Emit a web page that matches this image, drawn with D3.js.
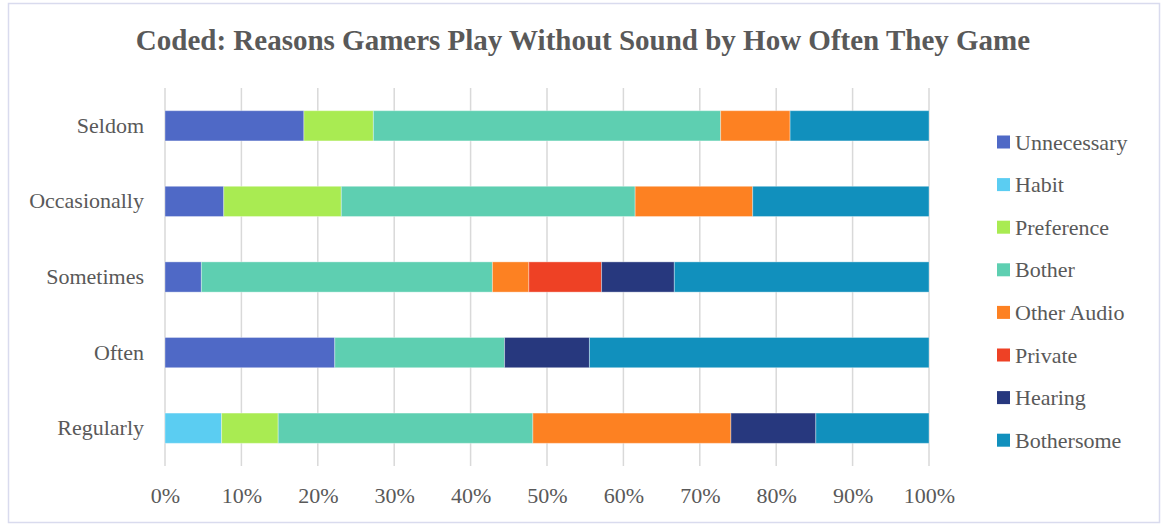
<!DOCTYPE html>
<html>
<head>
<meta charset="utf-8">
<script src="https://cdn.jsdelivr.net/npm/d3@7"></script>
<style>
  body { margin: 0; background: #fff; }
  svg { display: block; }
  text { font-family: "Liberation Serif", "DejaVu Serif", serif; fill: #595959; }
</style>
</head>
<body>
<svg id="chart" width="1162" height="525"></svg>
<script>
// frequency groups, top to bottom
var groups = ["Seldom", "Occasionally", "Sometimes", "Often", "Regularly"];
var reasons = ["Unnecessary", "Habit", "Preference", "Bother", "Other Audio", "Private", "Hearing", "Bothersome"];
var colors = ["#4f69c6", "#5bcdf2", "#a9eb52", "#5ecfb1", "#fd8122", "#ee4125", "#27387e", "#1190bd"];

// coded answer counts per reason, in group order
var unnecessary = [2, 1, 1, 2, 0];
var habit       = [0, 0, 0, 0, 2];
var preference  = [1, 2, 0, 0, 2];
var bother      = [5, 5, 8, 2, 9];
var otherAudio  = [1, 2, 1, 0, 7];
var privateR    = [0, 0, 2, 0, 0];
var hearing     = [0, 0, 2, 1, 3];
var bothersome  = [2, 3, 7, 4, 4];

var tickValues = [0, 0.1, 0.2, 0.3, 0.4, 0.5, 0.6, 0.7, 0.8, 0.9, 1];

var series = [unnecessary, habit, preference, bother, otherAudio, privateR, hearing, bothersome];
var rows = groups.map(function (g, i) {
  var row = { group: g };
  reasons.forEach(function (r, j) { row[r] = series[j][i]; });
  return row;
});

var svg = d3.select("#chart");

// outer frame
svg.append("rect")
  .attr("x", 8.5).attr("y", 3.5)
  .attr("width", 1151).attr("height", 519)
  .attr("fill", "#fff")
  .attr("stroke", "#d9dbee")
  .attr("stroke-width", 1.5);

svg.append("text")
  .attr("x", 583)
  .attr("y", 50)
  .attr("text-anchor", "middle")
  .style("font-size", "29px")
  .style("font-weight", "bold")
  .text("Coded: Reasons Gamers Play Without Sound by How Often They Game");

var x = d3.scaleLinear().domain([0, 1]).range([165, 929]);
var y = d3.scaleBand().domain(groups).range([88, 466]).paddingInner(0.6).paddingOuter(0.3);
var color = d3.scaleOrdinal().domain(reasons).range(colors);

// gridlines
svg.append("g")
  .selectAll("line")
  .data(tickValues)
  .enter()
  .append("line")
  .attr("x1", function (d) { return x(d); })
  .attr("x2", function (d) { return x(d); })
  .attr("y1", 88)
  .attr("y2", 466)
  .attr("stroke", "#d9d9d9")
  .attr("stroke-width", 1.5);

var stack = d3.stack().keys(reasons).offset(d3.stackOffsetExpand);
var layers = stack(rows);

svg.append("g")
  .selectAll("g")
  .data(layers)
  .enter()
  .append("g")
  .attr("fill", function (d) { return color(d.key); })
  .selectAll("rect")
  .data(function (d) { return d; })
  .enter()
  .append("rect")
  .attr("x", function (d) { return x(d[0]); })
  .attr("y", function (d) { return y(d.data.group); })
  .attr("width", function (d) { return x(d[1]) - x(d[0]); })
  .attr("height", y.bandwidth())
  .attr("stroke", "#fff")
  .attr("stroke-opacity", function (d) { return d[1] > d[0] ? 0.35 : 0; })
  .attr("stroke-width", 1);

// x axis labels
var xAxis = d3.axisBottom(x)
  .tickValues(tickValues)
  .tickFormat(d3.format(".0%"))
  .tickSize(0)
  .tickPadding(0);

var gx = svg.append("g")
  .attr("transform", "translate(0,487)")
  .call(xAxis);
gx.select(".domain").remove();
gx.selectAll("text")
  .style("font-size", "22px")
  .style("font-family", "Liberation Serif")
  .attr("fill", "#595959");

// y axis labels
var yAxis = d3.axisLeft(y).tickSize(0).tickPadding(21);
var gy = svg.append("g")
  .attr("transform", "translate(165,0)")
  .call(yAxis);
gy.select(".domain").remove();
gy.selectAll("text")
  .style("font-size", "22px")
  .style("font-family", "Liberation Serif")
  .attr("fill", "#595959");

// legend
var legend = svg.append("g")
  .attr("transform", "translate(997,142)");

var items = legend.selectAll("g")
  .data(reasons)
  .enter()
  .append("g")
  .attr("transform", function (d, i) { return "translate(0," + (i * 42.6) + ")"; });

items.append("rect")
  .attr("x", 0)
  .attr("y", -6.5)
  .attr("width", 13)
  .attr("height", 13)
  .attr("fill", function (d) { return color(d); });

items.append("text")
  .attr("x", 18)
  .attr("y", 7.5)
  .style("font-size", "22px")
  .text(function (d) { return d; });
</script>
</body>
</html>
